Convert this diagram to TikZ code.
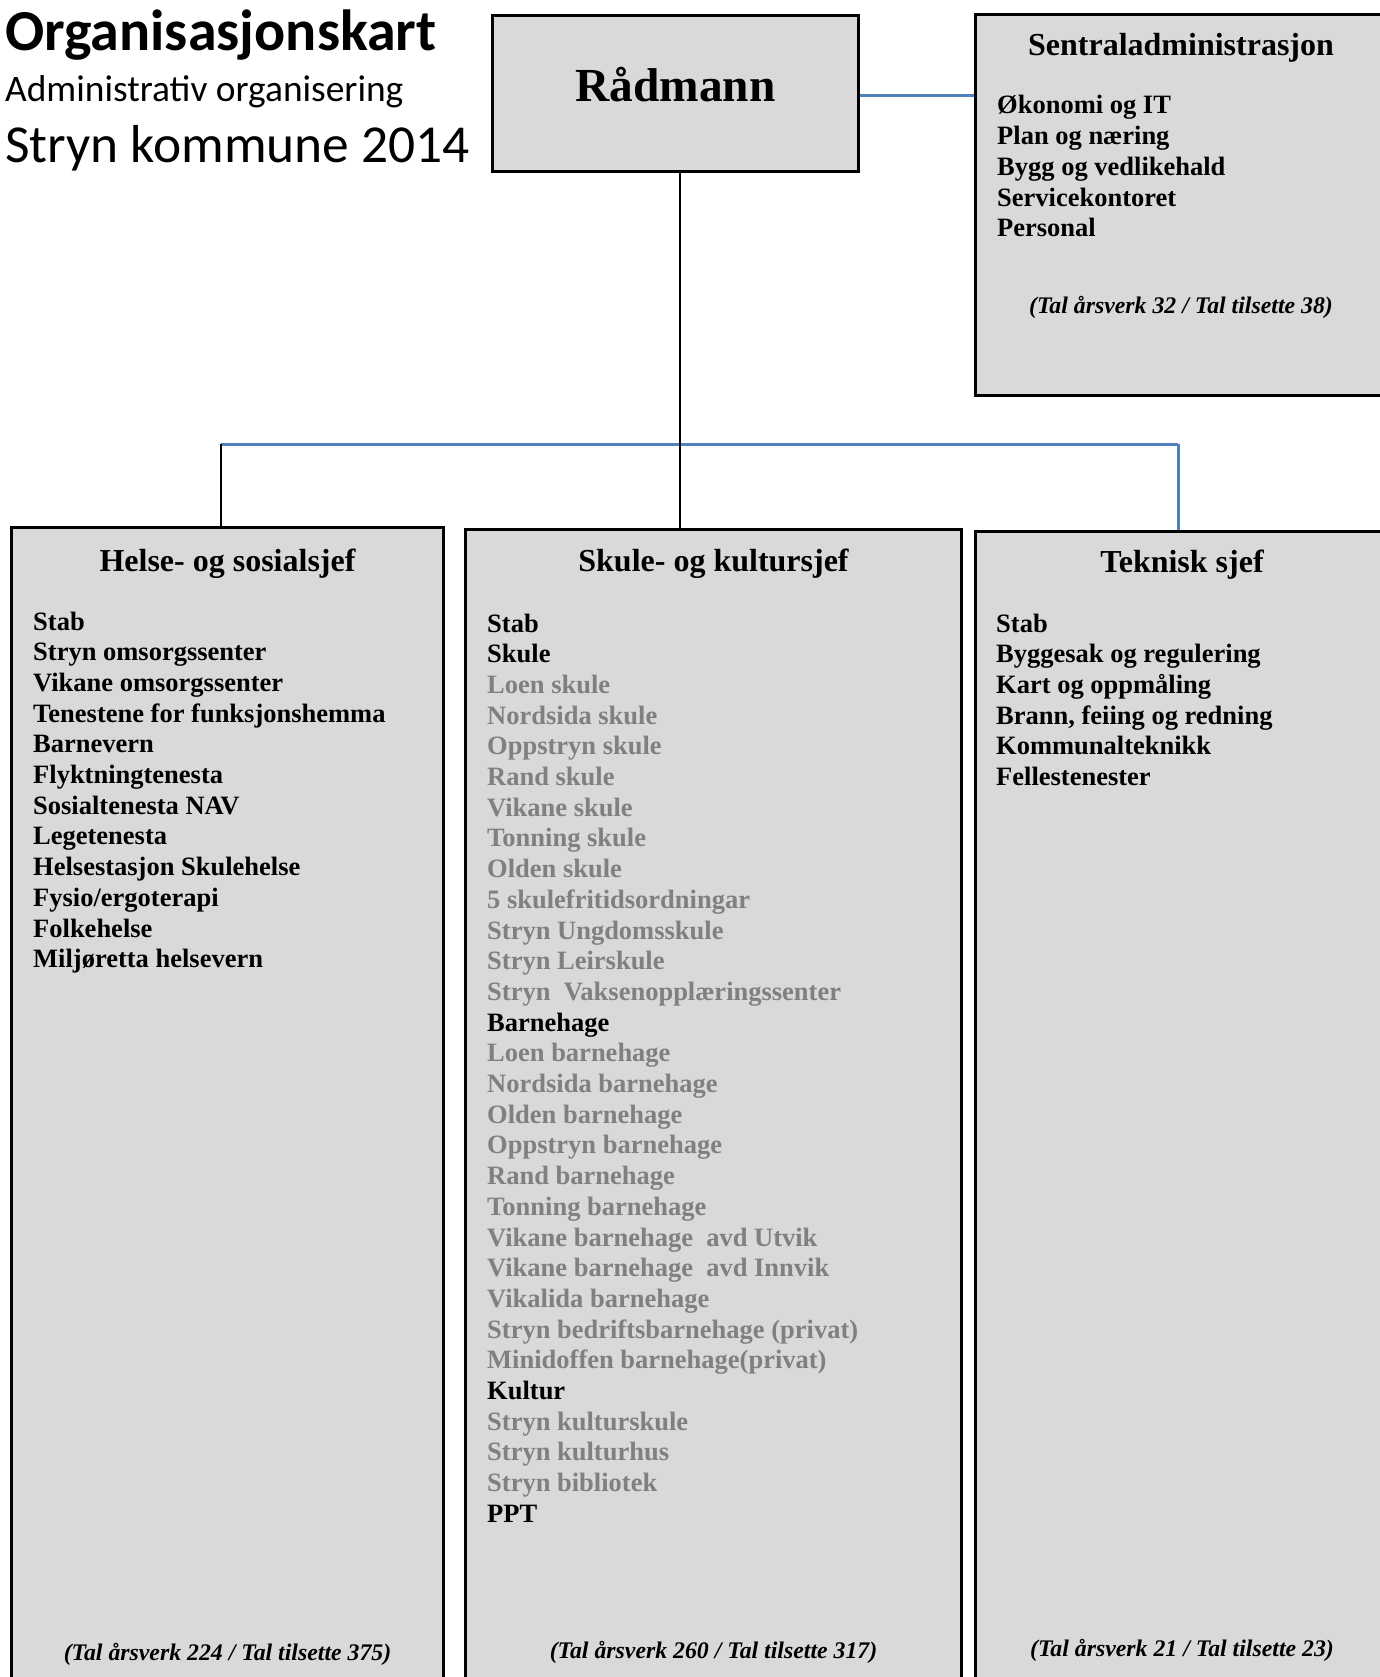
\documentclass[tikz,border=0pt]{standalone}
\usepackage{fontspec}
\setmainfont{Liberation Serif}
\newfontfamily\calfont{Carlito}
\definecolor{boxfill}{HTML}{D9D9D9}
\definecolor{linkblue}{HTML}{4F81BD}
\definecolor{subgray}{HTML}{808080}
\begin{document}
\begin{tikzpicture}[x=1pt,y=-1pt,
  box/.style={draw=black, line width=3pt, fill=boxfill, inner sep=0pt},
  item/.style={anchor=base west, inner sep=0pt, font=\bfseries\fontsize{26.5}{30}\selectfont},
  ttl/.style={anchor=base, inner sep=0pt, font=\bfseries\fontsize{32}{34}\selectfont},
  foot/.style={anchor=base, inner sep=0pt, font=\bfseries\itshape\fontsize{23.8}{26}\selectfont},
  blk/.style={line width=2.5pt, draw=black},
  blu/.style={line width=3pt, draw=linkblue}]
\useasboundingbox (0,0) rectangle (1380,1677);
\clip (0,0) rectangle (1380,1677);
\fill[white] (0,0) rectangle (1380,1677);

% heading
\node[anchor=base west, inner sep=0pt, font=\calfont\bfseries\fontsize{58}{60}\selectfont] (head1) at (5,51) {Organisasjonskart};
\node[anchor=base west, inner sep=0pt, font=\calfont\fontsize{37.4}{40}\selectfont] (head2) at (5,101.5) {Administrativ organisering};
\node[anchor=base west, inner sep=0pt, font=\calfont\fontsize{53.4}{56}\selectfont] (head3) at (5,163) {Stryn kommune 2014};

% boxes
\node[box, minimum width=366pt, minimum height=156pt] (radmann) at (675,93.5) {};
\node[box, minimum width=414.5pt, minimum height=381pt] (sentral) at (1182.75,205) {};
\node[box, minimum width=432pt, minimum height=1172.5pt] (helse) at (227.5,1113.75) {};
\node[box, minimum width=496pt, minimum height=1170.5pt] (skule) at (713.5,1114.75) {};
\node[box, minimum width=414.5pt, minimum height=1168.5pt] (teknisk) at (1182.75,1115.75) {};

% connectors
\coordinate (jc) at (680,444);
\coordinate (jl) at (221,444);
\coordinate (jr) at (1178,444);
\coordinate (jt) at (0,96);
\draw[blu] (radmann.east |- jt) -- (sentral.west |- jt);
\draw[blu] (jl) -- (jr);
\draw[blu] (jr) -- (teknisk.north -| jr);
\draw[blk] (jl) -- (helse.north -| jl);
\draw[blk] (radmann.south -| jc) -- (skule.north -| jc);

% Rådmann
\node[anchor=base, inner sep=0pt, font=\bfseries\fontsize{47.4}{50}\selectfont] (radtxt) at (675.5,102) {Rådmann};

% titles
\node[ttl] (sentralttl) at (1181,56) {Sentraladministrasjon};
\node[ttl] (helsettl) at (227.5,571) {Helse- og sosialsjef};
\node[ttl] (skulettl) at (713.5,571) {Skule- og kultursjef};
\node[ttl] (tekniskttl) at (1182,572) {Teknisk sjef};

% Sentraladministrasjon items
\foreach \t [count=\i] in {Økonomi og IT, Plan og næring, Bygg og vedlikehald, Servicekontoret, Personal}
  \node[item] (se\i) at (997,{114+(\i-1)*30.7}) {\t};

% Helse items
\foreach \t [count=\i] in {Stab, Stryn omsorgssenter, Vikane omsorgssenter, Tenestene for funksjonshemma, Barnevern, Flyktningtenesta, Sosialtenesta NAV, Legetenesta, Helsestasjon Skulehelse, Fysio/ergoterapi, Folkehelse, Miljøretta helsevern}
  \node[item] (hs\i) at (33,{630+(\i-1)*30.7}) {\t};

% Skule items
\foreach \c/\t [count=\i] in {black/Stab, black/Skule, subgray/Loen skule, subgray/Nordsida skule, subgray/Oppstryn skule, subgray/Rand skule, subgray/Vikane skule, subgray/Tonning skule, subgray/Olden skule, subgray/5 skulefritidsordningar, subgray/Stryn Ungdomsskule, subgray/Stryn Leirskule, subgray/Stryn\ \ Vaksenopplæringssenter, black/Barnehage, subgray/Loen barnehage, subgray/Nordsida barnehage, subgray/Olden barnehage, subgray/Oppstryn barnehage, subgray/Rand barnehage, subgray/Tonning barnehage, subgray/Vikane barnehage\ \ avd Utvik, subgray/Vikane barnehage\ \ avd Innvik, subgray/Vikalida barnehage, subgray/Stryn bedriftsbarnehage (privat), subgray/Minidoffen barnehage(privat), black/Kultur, subgray/Stryn kulturskule, subgray/Stryn kulturhus, subgray/Stryn bibliotek, black/PPT}
  \node[item, text=\c] (sk\i) at (487,{632+(\i-1)*30.7}) {\t};

% Teknisk items
\foreach \t [count=\i] in {Stab, Byggesak og regulering, Kart og oppmåling, {Brann, feiing og redning}, Kommunalteknikk, Fellestenester}
  \node[item] (te\i) at (996,{632+(\i-1)*30.7}) {\t};

% footers
\node[foot] (sentralfoot) at (1181,313) {(Tal årsverk 32 / Tal tilsette 38)};
\node[foot] (helsefoot) at (227.5,1660) {(Tal årsverk 224 / Tal tilsette 375)};
\node[foot] (skulefoot) at (713.5,1658) {(Tal årsverk 260 / Tal tilsette 317)};
\node[foot] (tekniskfoot) at (1182,1656) {(Tal årsverk 21 / Tal tilsette 23)};
\end{tikzpicture}
\end{document}
